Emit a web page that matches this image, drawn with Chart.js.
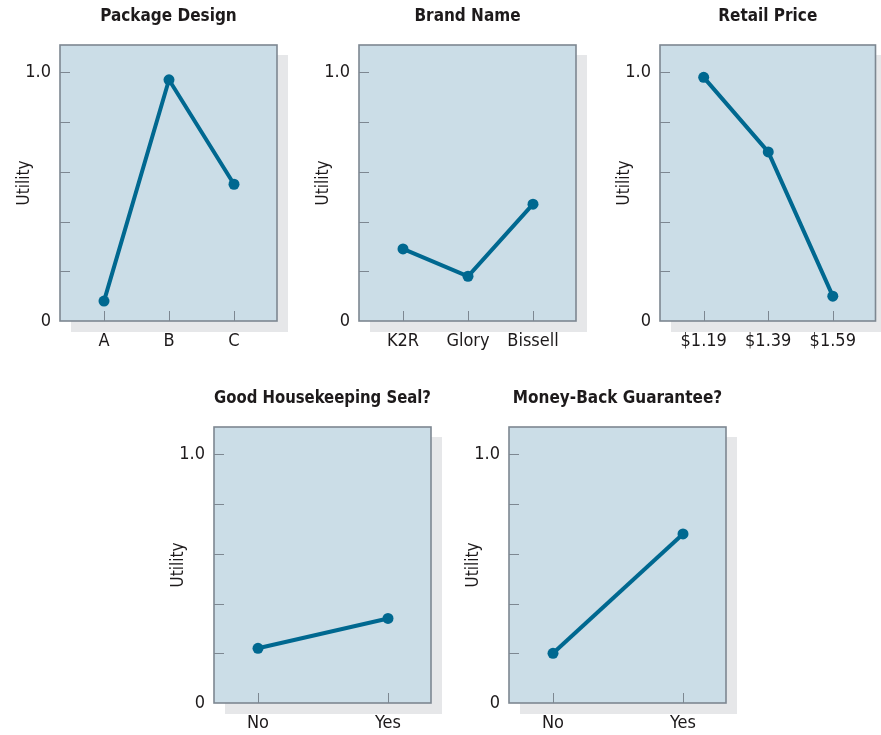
<!DOCTYPE html>
<html>
<head>
<meta charset="utf-8">
<script src="https://cdn.jsdelivr.net/npm/chart.js@4.4.1/dist/chart.umd.min.js"></script>
<style>
  html, body { margin: 0; padding: 0; background: #fff; overflow: hidden; }
  body { position: relative; width: 881px; height: 735px; }
  canvas { position: absolute; }
</style>
</head>
<body>
<canvas id="c1"></canvas>
<canvas id="c2"></canvas>
<canvas id="c3"></canvas>
<canvas id="c4"></canvas>
<canvas id="c5"></canvas>
<script>
// values
const packageLabels = ['A', 'B', 'C'];
const packageUtility = [0.08, 0.97, 0.55];
const brandLabels = ['K2R', 'Glory', 'Bissell'];
const brandUtility = [0.29, 0.18, 0.47];
const priceLabels = ['$1.19', '$1.39', '$1.59'];
const priceUtility = [0.98, 0.68, 0.10];
const sealLabels = ['No', 'Yes'];
const sealUtility = [0.22, 0.34];
const guaranteeLabels = ['No', 'Yes'];
const guaranteeUtility = [0.20, 0.68];
const yTickValues = [0, 0.2, 0.4, 0.6, 0.8, 1.0];
const yTickLabels = ['0', '', '', '', '', '1.0'];

const FONT = "'Liberation Sans Narrow', 'Arial Narrow', 'DejaVu Sans Condensed', 'Roboto Condensed', sans-serif";
const TEXT = '#1d1a1b';
const LINE = '#006890';

// box geometry (px)
const BOX_W = 217, BOX_H = 276, FIRST_TICK = 44, LAST_TICK = 174;

const panels = [
  { id: 'c1', title: 'Package Design', labels: packageLabels, values: packageUtility, boxX: 60, boxY: 45 },
  { id: 'c2', title: 'Brand Name', labels: brandLabels, values: brandUtility, boxX: 359, boxY: 45 },
  { id: 'c3', title: 'Retail Price', labels: priceLabels, values: priceUtility, boxX: 660, boxY: 45 },
  { id: 'c4', title: 'Good Housekeeping Seal?', labels: sealLabels, values: sealUtility, boxX: 214, boxY: 427 },
  { id: 'c5', title: 'Money-Back Guarantee?', labels: guaranteeLabels, values: guaranteeUtility, boxX: 509, boxY: 427 }
];

const panelFrame = {
  id: 'panelFrame',
  beforeDraw(chart) {
    const { ctx, chartArea: a } = chart;
    ctx.save();
    ctx.fillStyle = '#e6e7e9';
    ctx.fillRect(a.left + 11, a.top + 10, a.width, a.height + 1);
    ctx.fillStyle = '#cbdde7';
    ctx.fillRect(a.left, a.top, a.width, a.height);
    ctx.restore();
  },
  beforeDatasetsDraw(chart) {
    const { ctx, chartArea: a, scales: { x, y } } = chart;
    ctx.save();
    ctx.strokeStyle = '#7d8791';
    ctx.lineWidth = 1;
    ctx.beginPath();
    yTickValues.slice(1).forEach(v => {
      const py = Math.round(y.getPixelForValue(v)) + 0.5;
      ctx.moveTo(a.left, py);
      ctx.lineTo(a.left + 10, py);
    });
    x.ticks.forEach(t => {
      const px = Math.round(x.getPixelForValue(t.value)) + 0.5;
      ctx.moveTo(px, a.bottom);
      ctx.lineTo(px, a.bottom - 10);
    });
    ctx.stroke();
    ctx.lineWidth = 1.6;
    ctx.strokeRect(a.left, a.top, a.width, a.height);
    ctx.restore();
  }
};

panels.forEach(p => {
  const cv = document.getElementById(p.id);
  const left = p.boxX - 60, top = p.boxY - 45;
  const w = Math.min(300, 881 - left), h = Math.min(360, 735 - top);
  cv.width = w; cv.height = h;
  cv.style.left = left + 'px';
  cv.style.top = top + 'px';

  const span = p.labels.length - 1;
  const unit = (LAST_TICK - FIRST_TICK) / span;

  new Chart(cv, {
    type: 'line',
    data: {
      datasets: [{
        data: p.values.map((v, i) => ({ x: i, y: v })),
        borderColor: LINE,
        backgroundColor: LINE,
        borderWidth: 4,
        pointRadius: 5.5,
        pointBorderWidth: 0,
        pointBackgroundColor: LINE,
        tension: 0
      }]
    },
    options: {
      responsive: false,
      animation: false,
      layout: { padding: { left: 0, right: w - 60 - BOX_W, top: 0, bottom: 0 } },
      scales: {
        x: {
          type: 'linear',
          min: -FIRST_TICK / unit,
          max: (BOX_W - FIRST_TICK) / unit,
          afterBuildTicks: s => { s.ticks = p.labels.map((c, i) => ({ value: i })); },
          afterFit: s => { s.height = h - 45 - BOX_H; },
          grid: { display: false, drawTicks: false },
          border: { display: false },
          ticks: {
            padding: 10,
            color: TEXT,
            autoSkip: false,
            maxRotation: 0,
            font: { family: FONT, size: 18 },
            callback: v => p.labels[v]
          }
        },
        y: {
          min: 0,
          max: 1.11,
          afterBuildTicks: s => { s.ticks = yTickValues.map(v => ({ value: v })); },
          afterFit: s => { s.width = 60; },
          grid: { display: false, drawTicks: false },
          border: { display: false },
          ticks: {
            padding: 9,
            color: TEXT,
            font: { family: FONT, size: 18 },
            callback: v => yTickLabels[yTickValues.indexOf(v)]
          },
          title: {
            display: true,
            text: 'Utility',
            color: TEXT,
            font: { family: FONT, size: 17 },
            padding: { top: 14, bottom: 0 }
          }
        }
      },
      plugins: {
        legend: { display: false },
        tooltip: { enabled: false },
        title: {
          display: true,
          fullSize: false,
          text: p.title,
          color: TEXT,
          font: { family: FONT, size: 17, weight: 'bold', lineHeight: '20px' },
          padding: { top: 7, bottom: 18 }
        }
      }
    },
    plugins: [panelFrame]
  });
});
</script>
</body>
</html>
